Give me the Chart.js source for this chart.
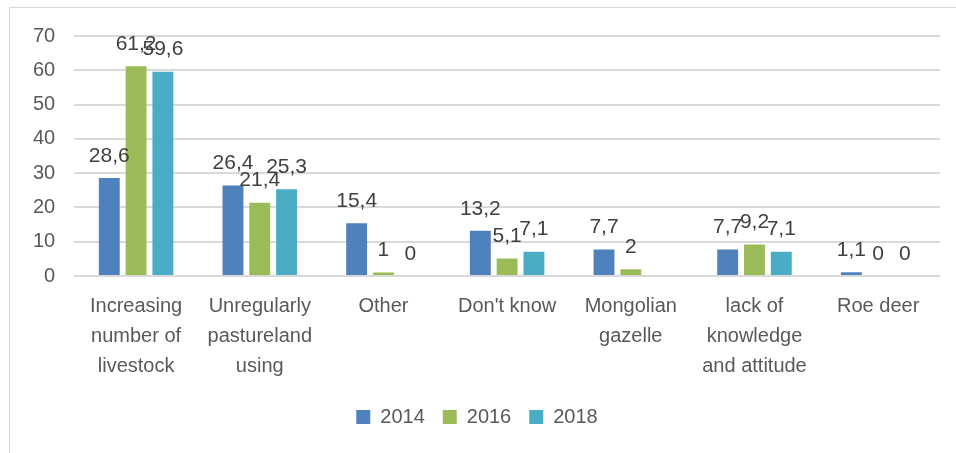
<!DOCTYPE html>
<html>
<head>
<meta charset="utf-8">
<script src="https://cdn.jsdelivr.net/npm/chart.js@4/dist/chart.umd.min.js"></script>
<style>
  html, body { margin: 0; padding: 0; background: #fff; }
  #frame { position: absolute; left: 9px; top: 7px; width: 1000px; height: 500px;
           border-left: 1px solid #d9d9d9; border-top: 1px solid #d9d9d9; }
  #wrap { position: absolute; left: 0; top: 0; width: 956px; height: 453px; }
</style>
</head>
<body>
<div id="frame"></div>
<div id="wrap"><canvas id="chart"></canvas></div>
<script>
const categories = [
  ['Increasing', 'number of', 'livestock'],
  ['Unregularly', 'pastureland', 'using'],
  'Other',
  "Don't know",
  ['Mongolian', 'gazelle'],
  ['lack of', 'knowledge', 'and attitude'],
  'Roe deer'
];
const values2014 = [28.6, 26.4, 15.4, 13.2, 7.7, 7.7, 1.1];
const values2016 = [61.2, 21.4, 1, 5.1, 2, 9.2, 0];
const values2018 = [59.6, 25.3, 0, 7.1, null, 7.1, 0];
const yTicks = [0, 10, 20, 30, 40, 50, 60, 70];

const textColor = '#595959';
const fontFamily = '"Liberation Sans", Arial, sans-serif';

// etiquetas de datos encima de cada barra (coma decimal)
const barLabels = {
  id: 'barLabels',
  afterDatasetsDraw(chart) {
    const ctx = chart.ctx;
    ctx.save();
    ctx.font = '21px ' + fontFamily;
    ctx.fillStyle = '#404040';
    ctx.textAlign = 'center';
    ctx.textBaseline = 'middle';
    chart.data.datasets.forEach((ds, i) => {
      const meta = chart.getDatasetMeta(i);
      meta.data.forEach((bar, j) => {
        const v = ds.data[j];
        if (v === null || v === undefined) return;
        ctx.fillText(String(v).replace('.', ','), bar.x, bar.y - 22);
      });
    });
    ctx.restore();
  }
};

new Chart(document.getElementById('chart'), {
  type: 'bar',
  data: {
    labels: categories,
    datasets: [
      { label: '2014', data: values2014, backgroundColor: '#4F81BD' },
      { label: '2016', data: values2016, backgroundColor: '#9BBB59' },
      { label: '2018', data: values2018, backgroundColor: '#4BACC6' }
    ]
  },
  options: {
    responsive: true,
    maintainAspectRatio: false,
    animation: false,
    layout: { padding: { left: 14, right: 16, top: 36, bottom: 16 } },
    datasets: { bar: { categoryPercentage: 0.65, barPercentage: 0.78 } },
    plugins: {
      legend: {
        position: 'bottom',
        labels: {
          color: textColor,
          font: { family: fontFamily, size: 20 },
          boxWidth: 14, boxHeight: 14, padding: 18
        }
      },
      tooltip: { enabled: false }
    },
    scales: {
      x: {
        grid: { display: false },
        border: { display: false },
        afterFit: axis => { axis.height = 113; },
        ticks: {
          color: textColor,
          font: { family: fontFamily, size: 20, lineHeight: 1.5 },
          maxRotation: 0, autoSkip: false, padding: 7
        }
      },
      y: {
        min: 0, max: 70,
        afterBuildTicks: axis => { axis.ticks = yTicks.map(v => ({ value: v })); },
        grid: { color: '#d9d9d9', lineWidth: 2, drawTicks: false },
        border: { display: false },
        ticks: {
          color: textColor,
          font: { family: fontFamily, size: 20 },
          padding: 19
        }
      }
    }
  },
  plugins: [barLabels]
});
</script>
</body>
</html>
